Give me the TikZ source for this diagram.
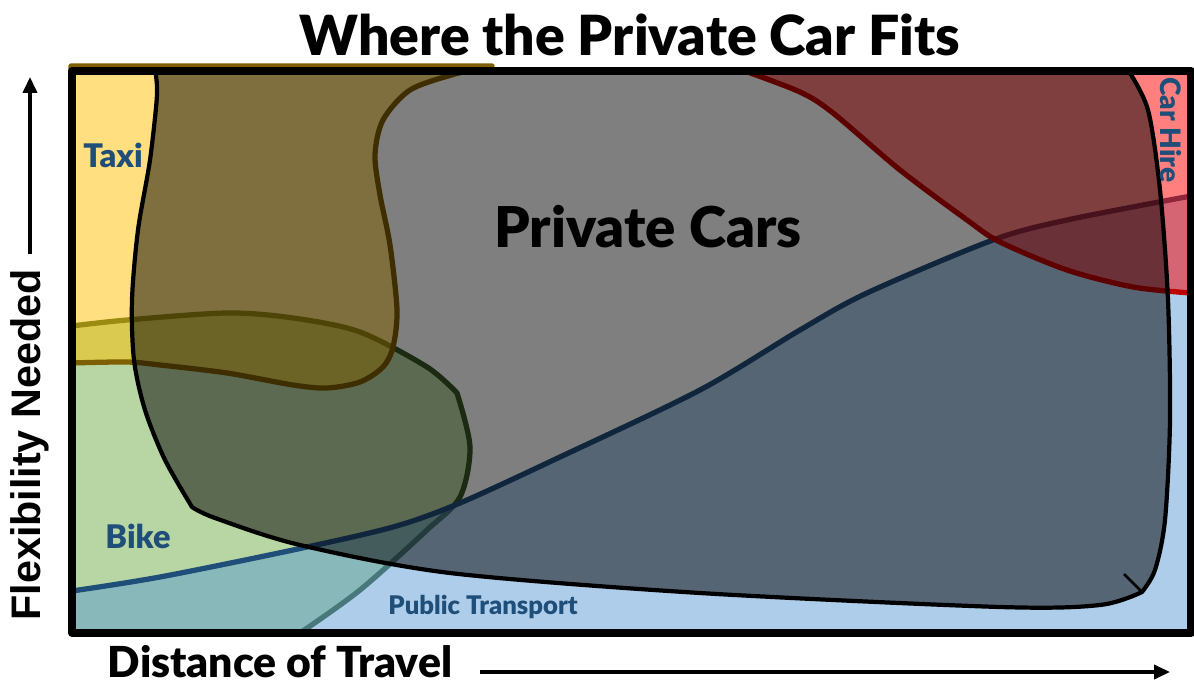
\documentclass[tikz,border=0pt]{standalone}
\usepackage{fontspec}
\setmainfont{Lato}
\newfontfamily\heavyfont{Lato Black}
\newfontfamily\arialfont{Liberation Sans}
\usetikzlibrary{arrows.meta}
\definecolor{taxigold}{HTML}{FFC000}
\definecolor{taxiline}{HTML}{7F6000}
\definecolor{bikegreen}{HTML}{70AD47}
\definecolor{bikeline}{HTML}{375623}
\definecolor{ptblue}{HTML}{5B9BD5}
\definecolor{ptline}{HTML}{1F4E79}
\definecolor{hirered}{HTML}{FF0000}
\definecolor{hireline}{HTML}{C00000}
\definecolor{labelblue}{HTML}{1F4E79}

\begin{document}
\begin{tikzpicture}[x=0.02cm, y=-0.02cm, line join=round,
      zone/.style={line width=3pt, fill opacity=0.5},
      zonelabel/.style={text=labelblue, inner sep=0pt, font=\heavyfont\fontsize{18.5}{18.5}\selectfont},
      axislabel/.style={inner sep=0pt, font=\heavyfont\fontsize{24.3}{24.3}\selectfont},
      axisarrow/.style={line width=1.8pt, -{Triangle[length=9pt, width=8pt]}}
      ]
      \useasboundingbox (0,0) rectangle (1194,686);
      % bike
      \draw[zone, draw=bikeline, fill=bikegreen] (72,326)
        -- plot[smooth] coordinates {(72,326) (127,320) (227,313) (293,318) (360,332) (427,367) (457,393)}
        -- plot[smooth] coordinates {(457,393) (470,447) (460,497) (427,530) (360,590) (300,633)}
        -- (72,633) -- cycle;
      % public transport
      \draw[zone, draw=ptline, fill=ptblue]
        plot[smooth] coordinates {(72,591) (160,577) (293,550) (393,527) (460,503) (560,457) (700,390) (800,330) (867,293) (993,240) (1067,220) (1191,196)}
        -- (1191,633) -- (72,633) -- cycle;
      % taxi
      \draw[zone, draw=taxiline, fill=taxigold] (71,66) -- (492,66)
        -- plot[smooth] coordinates {(492,66) (455,74) (410,90) (383,120) (375,155) (380,195) (390,245) (397,310) (393,347) (383,367) (360,382) (327,388) (293,385) (227,373) (160,365) (127,362) (71,363)}
        -- cycle;
      % car hire
      \draw[zone, draw=hireline, fill=hirered]
        plot[smooth] coordinates {(742,70) (800,92) (833,113) (900,170) (967,220) (1000,242) (1067,270) (1133,287) (1191,293)}
        -- (1191,70) -- cycle;
      % private cars
      \draw[zone, line width=2.4pt, draw=black, fill=black] (155,70)
        -- plot[smooth] coordinates {(155,70) (157,95) (150,160) (138,230) (132,300) (134,360) (145,410) (165,460) (192,507)}
        -- plot[smooth] coordinates {(192,507) (215,518) (300,545) (450,573) (700,593) (1000,607) (1100,605) (1142,592)}
        -- plot[smooth] coordinates {(1142,592) (1155,570) (1165,520) (1170,420) (1168,300) (1160,190) (1148,110) (1128,70)}
        -- cycle;
      \coordinate (pccorner) at (1142,592);
      \draw[line width=1.6pt] (pccorner) -- ++(-18,-18);
      % frame
      \draw[line width=4.5pt] (72,71) rectangle (1191,633);

      \node[font=\heavyfont\fontsize{31.5}{31.5}\selectfont] (title) at (630,35) {Where the Private Car Fits};
      \node[font=\heavyfont\fontsize{32}{32}\selectfont] (pcars) at (648,227) {Private Cars};
      \node[zonelabel] (taxi) at (113,155) {Taxi};
      \node[zonelabel] (bike) at (138,536) {Bike};
      \node[zonelabel, font=\heavyfont\fontsize{14.6}{14.6}\selectfont] (pt) at (483,607) {Public Transport};
      \node[zonelabel, font=\heavyfont\fontsize{16}{16}\selectfont, rotate=-90] (hire) at (1171,130) {Car Hire};
      \node[axislabel, font=\arialfont\bfseries\fontsize{23.5}{23.5}\selectfont, rotate=90] (flex) at (30,445) {Flexibility Needed};
      \node[axislabel] (dist) at (280,662) {Distance of Travel};

      \coordinate (flexfoot) at (30,254);
      \coordinate (flextip) at (30,77);
      \coordinate (distfoot) at (480,672);
      \coordinate (disttip) at (1170,672);
      \draw[axisarrow] (flexfoot) -- (flextip);
      \draw[axisarrow] (distfoot) -- (disttip);
    \end{tikzpicture}
\end{document}
